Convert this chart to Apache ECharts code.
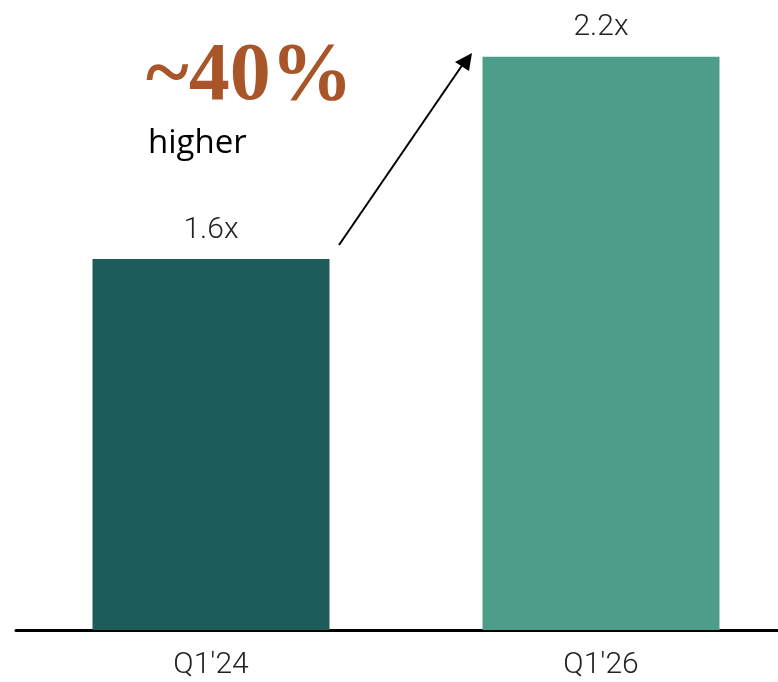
<!DOCTYPE html>
<html>
<head>
<meta charset="utf-8">
<script src="https://cdn.jsdelivr.net/npm/echarts@6/dist/echarts.min.js"></script>
<style>
  html, body { margin: 0; padding: 0; background: #fff; }
  #main { width: 778px; height: 682px; }
</style>
</head>
<body>
<div id="main"></div>
<script>
// 数据
const categories = ["Q1'24", "Q1'26"];
const values = [1.6, 2.2];
const barColors = ['#1e5c5a', '#4c9e8b'];
const headline = '~40%';
const subline = 'higher';

const chart = echarts.init(document.getElementById('main'), null, { renderer: 'canvas' });

const labelFont = '"Roboto", sans-serif';

chart.setOption({
  animation: false,
  grid: {
    left: 16,
    right: -18,
    top: 0,
    bottom: 52,
    outerBoundsMode: 'none',
    containLabel: false
  },
  xAxis: {
    type: 'category',
    data: categories,
    axisTick: { show: false },
    axisLine: { lineStyle: { color: '#000', width: 3 } },
    axisLabel: {
      color: '#222',
      fontSize: 30,
      fontWeight: 300,
      fontFamily: labelFont,
      margin: 20
    }
  },
  yAxis: {
    type: 'value',
    min: 0.5,
    max: 2.368,
    show: false,
    splitLine: { show: false }
  },
  series: [{
    type: 'bar',
    barWidth: 237,
    data: values.map((v, i) => ({
      value: v,
      itemStyle: { color: barColors[i] }
    })),
    label: {
      show: true,
      position: 'top',
      distance: 14,
      color: '#222',
      fontSize: 30,
      fontWeight: 300,
      fontFamily: labelFont,
      formatter: p => p.value + 'x'
    }
  }],
  graphic: [
    {
      type: 'text',
      left: 146,
      top: 37,
      style: {
        text: headline,
        fill: '#a9552a',
        font: 'bold 82px "Liberation Serif", serif'
      }
    },
    {
      type: 'text',
      left: 148,
      top: 127,
      style: {
        text: subline,
        fill: '#000',
        font: '33px "Open Sans", sans-serif'
      }
    },
    // 箭头
    {
      type: 'line',
      shape: { x1: 339, y1: 245, x2: 463, y2: 64 },
      style: { stroke: '#000', lineWidth: 2 }
    },
    {
      type: 'polygon',
      shape: { points: [[472, 53], [455, 62], [469, 71]] },
      style: { fill: '#000' }
    }
  ]
});
</script>
</body>
</html>
